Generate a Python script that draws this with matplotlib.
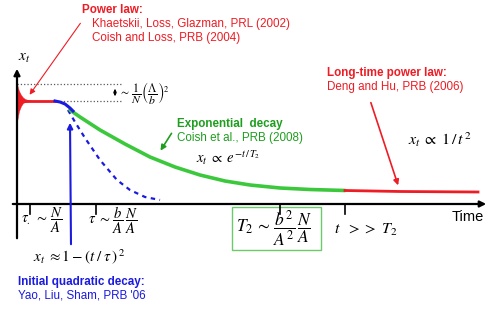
import matplotlib.pyplot as plt
from matplotlib.patches import Rectangle

plt.rcParams['font.family'] = ['Liberation Sans', 'DejaVu Sans']
plt.rcParams['mathtext.fontset'] = 'stix'

RED = '#ee1c24'
GREEN_LINE = '#3cc83c'
GREEN_TXT = '#1e9e1e'
BLUE = '#1a1ae0'

# schematic curves, in picture units (t to the right, x_t downwards)
spike_t = [17, 18, 19, 21, 23, 25, 28, 31, 35]
spike_hi = [84, 88, 91, 95, 97.5, 99, 100, 100.5, 101]
spike_lo = [122, 116, 111, 106, 103, 102, 101.5, 101, 101]
plateau_t = [17, 55]
plateau_x = [101, 101]
quad_t = [55, 60, 65, 70, 73]
quad_x = [101, 102, 104, 108, 111]
quad_ext_t = [68, 75, 85, 100, 117, 130, 145, 160]
quad_ext_x = [110, 122, 138, 160, 180, 190, 197, 200]
exp_t = [70, 80, 100, 125, 150, 175, 200, 225, 250, 280, 310, 345]
exp_x = [110, 117, 130, 144, 157, 167, 175, 181, 185, 188, 189.5, 190.5]
tail_t = [345, 400, 478]
tail_x = [190.5, 191.5, 192]
tick_t = [30, 96, 280, 345]
plateau_top, plateau_bot = 84, 101

fig = plt.figure(figsize=(4.98, 3.17), dpi=100)
ax = fig.add_axes([0, 0, 1, 1])
ax.set_xlim(0, 498)
ax.set_ylim(317, 0)
ax.axis('off')

# axes
ax.annotate('', xy=(17, 66), xytext=(17, 241),
            arrowprops=dict(arrowstyle='-|>', lw=1.6, color='k', mutation_scale=9))
ax.annotate('', xy=(489, 204), xytext=(10, 204),
            arrowprops=dict(arrowstyle='-|>', lw=1.6, color='k', mutation_scale=9))
for t in tick_t:
    ax.plot([t, t], [204, 214], color='k', lw=1.2)

# plateau guides
ax.plot([17, 121], [plateau_top, plateau_top], ls=':', color='0.35', lw=0.9)
ax.plot([17, 121], [plateau_bot, plateau_bot], ls=':', color='0.35', lw=0.9)
ax.annotate('', xy=(115, 86), xytext=(115, 99),
            arrowprops=dict(arrowstyle='<|-|>', lw=0.8, color='k', mutation_scale=4))

# curves
ax.fill_between(spike_t, spike_hi, spike_lo, color=RED, lw=0.3)
ax.plot(plateau_t, plateau_x, color=RED, lw=2)
ax.plot(quad_ext_t, quad_ext_x, color=BLUE, lw=1.6, ls=(0, (2, 2)))
ax.plot(exp_t, exp_x, color=GREEN_LINE, lw=2.6, solid_capstyle='round')
ax.plot(quad_t, quad_x, color=BLUE, lw=2.2)
ax.plot(tail_t, tail_x, color=RED, lw=2)

# pointer arrows
ax.annotate('', xy=(28, 97), xytext=(82, 21),
            arrowprops=dict(arrowstyle='-|>', lw=0.8, color=RED, mutation_scale=8))
ax.annotate('', xy=(70, 120), xytext=(71, 247),
            arrowprops=dict(arrowstyle='-|>', lw=1.5, color=BLUE, mutation_scale=8))
ax.annotate('', xy=(159, 153), xytext=(173, 131),
            arrowprops=dict(arrowstyle='-|>', lw=1.2, color=GREEN_TXT, mutation_scale=8))
ax.annotate('', xy=(399, 188), xytext=(370, 100),
            arrowprops=dict(arrowstyle='-|>', lw=1.2, color=RED, mutation_scale=8))

# annotations
fs = 8.4
ax.text(82, 10, 'Power law:', color=RED, fontsize=fs, fontweight='bold', va='center')
ax.text(92, 24, 'Khaetskii, Loss, Glazman, PRL (2002)', color=RED, fontsize=fs, va='center')
ax.text(92, 38, 'Coish and Loss, PRB (2004)', color=RED, fontsize=fs, va='center')

ax.text(177, 124, 'Exponential  decay', color=GREEN_TXT, fontsize=fs, fontweight='bold', va='center')
ax.text(177, 138, 'Coish et al., PRB (2008)', color=GREEN_TXT, fontsize=fs, va='center')

ax.text(327, 73, 'Long-time power law:', color=RED, fontsize=fs, fontweight='bold', va='center')
ax.text(327, 87, 'Deng and Hu, PRB (2006)', color=RED, fontsize=fs, va='center')

ax.text(18, 282, 'Initial quadratic decay:', color=BLUE, fontsize=fs, fontweight='bold', va='center')
ax.text(18, 296, "Yao, Liu, Sham, PRB '06", color=BLUE, fontsize=fs, va='center')

ax.text(452, 217, 'Time', color='k', fontsize=10.5, va='center')

ax.text(18, 58, r'$x_t$', fontsize=11, va='center')
ax.text(119, 93, r'$\sim\,\dfrac{1}{N}\left(\dfrac{\Lambda}{b}\right)^2$', fontsize=8.5, va='center')
ax.text(21, 220, r'$\tau_{.}\;\sim\,\dfrac{N}{A}$', fontsize=10.5, va='center')
ax.text(88, 220, r'$\tau\;\sim\,\dfrac{b}{A}\,\dfrac{N}{A}$', fontsize=10.5, va='center')
ax.text(236, 229, r'$T_2\,\sim\,\dfrac{b^2}{A^2}\,\dfrac{N}{A}$', fontsize=12.5, va='center')
ax.add_patch(Rectangle((232, 207), 89, 43, fill=False, ec='#6cc96c', lw=1))
ax.text(334, 230, r'$t\ \ >>\ T_2$', fontsize=11.5, va='center')
ax.text(196, 158, r'$x_t\;\propto\;e^{-t\,/\,T_2}$', fontsize=10.5, va='center')
ax.text(408, 140, r'$x_t\;\propto\;1\,/\,t^{\,2}$', fontsize=11.5, va='center')
ax.text(33, 257, r'$x_t\;\approx 1-(t\;/\;\tau\,)^{\,2}$', fontsize=11, va='center')

fig.savefig('out.png', dpi=100)
